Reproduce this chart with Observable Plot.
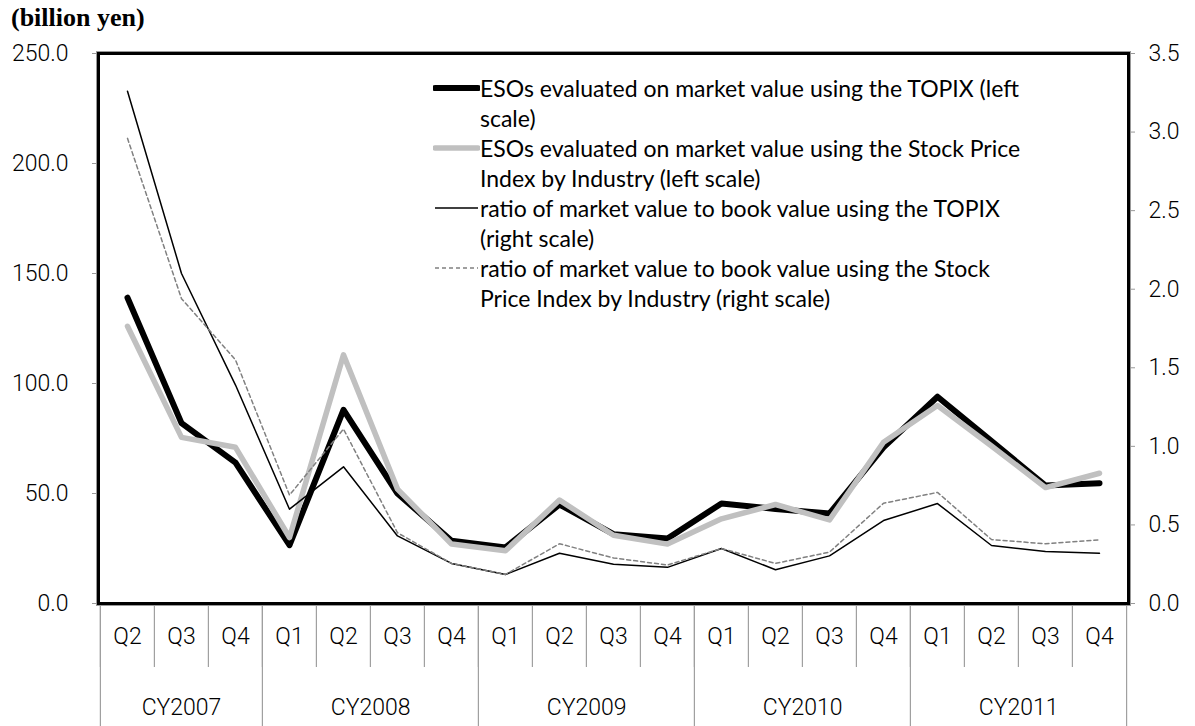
<!DOCTYPE html>
<html><head><meta charset="utf-8">
<script src="https://cdn.jsdelivr.net/npm/d3@7"></script>
<script src="https://cdn.jsdelivr.net/npm/@observablehq/plot@0.6"></script>
<style>
body{margin:0;background:#fff;}
#wrap{position:relative;width:1195px;height:726px;}
#title{position:absolute;left:11px;top:3px;font:bold 26px "Liberation Serif","Times New Roman",serif;color:#000;line-height:30px;}
#legend{position:absolute;left:433px;top:73px;font:23px Lato,sans-serif;line-height:30px;color:#000;}
.item{display:flex;align-items:flex-start;}
.item svg{flex:none;width:47px;height:30px;}
.item span{white-space:pre-line;}
#chart{position:absolute;left:0;top:0;}
</style></head>
<body><div id="wrap"><div id="chart"></div><div id="title">(billion yen)</div><div id="legend"></div></div>
<script>
// ---- data ----
const quarterLabels = ["Q2","Q3","Q4","Q1","Q2","Q3","Q4","Q1","Q2","Q3","Q4","Q1","Q2","Q3","Q4","Q1","Q2","Q3","Q4"];
const quarterYears  = [2007,2007,2007,2008,2008,2008,2008,2009,2009,2009,2009,2010,2010,2010,2010,2011,2011,2011,2011];
const yearLabels = {2007:"CY2007",2008:"CY2008",2009:"CY2009",2010:"CY2010",2011:"CY2011"};
const esoTopix    = [139, 82, 64, 26.5, 88, 50, 28.5, 25.5, 45, 31.5, 29.5, 45.5, 43, 40.9, 71, 94, 73.8, 53.6, 54.7];
const esoIndustry = [126, 75.5, 71, 30, 113, 52, 27, 24, 47, 31, 27, 38.5, 45, 38, 73.3, 90, 71.6, 52.7, 59.2];
const ratioTopix    = [3.26, 2.10, 1.39, 0.60, 0.87, 0.43, 0.255, 0.185, 0.32, 0.25, 0.23, 0.35, 0.215, 0.303, 0.528, 0.636, 0.369, 0.331, 0.32];
const ratioIndustry = [2.96, 1.94, 1.55, 0.69, 1.11, 0.45, 0.255, 0.185, 0.38, 0.29, 0.245, 0.35, 0.255, 0.327, 0.638, 0.707, 0.407, 0.38, 0.405];
const leftTicks  = [0, 50, 100, 150, 200, 250];
const rightTicks = [0, 0.5, 1.0, 1.5, 2.0, 2.5, 3.0, 3.5];
const legendLabels = [
  "ESOs evaluated on market value using the TOPIX (left\nscale)",
  "ESOs evaluated on market value using the Stock Price\nIndex by Industry (left scale)",
  "ratio of market value to book value using the TOPIX\n(right scale)",
  "ratio of market value to book value using the Stock\nPrice Index by Industry (right scale)"
];

// ---- layout ----
const W = 1195, H = 726, mL = 98, mR = 67, mT = 53, mB = 123;
const leftMax = 250, rightMax = 3.5, k = leftMax / rightMax;
const keys = quarterLabels.map((q, i) => quarterYears[i] + " " + q);
const step = (W - mL - mR) / keys.length;
const pxPerUnit = (H - mT - mB) / leftMax;
const rows = keys.map((key, i) => ({key, q: quarterLabels[i], year: quarterYears[i],
  a: esoTopix[i], b: esoIndustry[i], c: ratioTopix[i] * k, d: ratioIndustry[i] * k}));

const years = [...new Set(quarterYears)];
const groups = years.map(y => rows.filter(r => r.year === y));
const firstKeys = groups.map(g => g[0].key);
const oddCenters = groups.filter(g => g.length % 2 === 1).map(g => ({key: g[(g.length - 1) / 2].key, label: yearLabels[g[0].year]}));
const evenCenters = groups.filter(g => g.length % 2 === 0).map(g => ({key: g[g.length / 2 - 1].key, label: yearLabels[g[0].year]}));

const styles = [
  {field: "a", stroke: "#000", strokeWidth: 6, dash: null},
  {field: "b", stroke: "#c0c0c0", strokeWidth: 5.5, dash: null},
  {field: "c", stroke: "#000", strokeWidth: 1.5, dash: null},
  {field: "d", stroke: "#808080", strokeWidth: 1.5, dash: "4,3"}
];

const qDepth = 64 / pxPerUnit, yDepth = mB / pxPerUnit;
const sepColor = "#a0a0a0";
const tickFont = {fontSize: 23, fontWeight: 300, fill: "#000"};

const chart = Plot.plot({
  width: W, height: H, marginLeft: mL, marginRight: mR, marginTop: mT, marginBottom: mB,
  style: {fontFamily: "Roboto, sans-serif", fontSize: "23px", color: "#000", background: "transparent"},
  x: {type: "point", domain: keys, padding: 0.5, axis: null},
  y: {domain: [0, leftMax], axis: null},
  marks: [
    Plot.axisY({anchor: "left", ticks: leftTicks, tickFormat: d => d.toFixed(1), tickSize: 6, tickPadding: 24, stroke: "#999", ...tickFont}),
    Plot.axisY({anchor: "right", ticks: rightTicks.map(v => v * k), tickFormat: d => (d / k).toFixed(1), tickSize: 6, tickPadding: 14, stroke: "#999", ...tickFont}),
    // quarter separators
    Plot.ruleX(keys, {x: d => d, y1: 0, y2: -qDepth, dx: -step / 2, stroke: sepColor, strokeWidth: 1.2}),
    // year separators
    Plot.ruleX(firstKeys, {x: d => d, y1: 0, y2: -yDepth, dx: -step / 2, stroke: sepColor, strokeWidth: 1.2}),
    Plot.ruleX([keys[keys.length - 1]], {x: d => d, y1: 0, y2: -yDepth, dx: step / 2, stroke: sepColor, strokeWidth: 1.2}),
    Plot.text(rows, {x: "key", text: "q", frameAnchor: "bottom", dy: 40, ...tickFont}),
    Plot.text(oddCenters, {x: "key", text: "label", frameAnchor: "bottom", dy: 111, ...tickFont}),
    Plot.text(evenCenters, {x: "key", text: "label", frameAnchor: "bottom", dy: 111, dx: step / 2, ...tickFont}),
    ...styles.map(s => Plot.line(rows, {x: "key", y: s.field, stroke: s.stroke, strokeWidth: s.strokeWidth, strokeDasharray: s.dash, strokeLinecap: "round", strokeLinejoin: "round"})),
    Plot.frame({stroke: "#999", strokeWidth: 1, inset: -2}),
    Plot.frame({stroke: "#000", strokeWidth: 3})
  ]
});
document.getElementById("chart").appendChild(chart);

// legend
const legend = document.getElementById("legend");
styles.forEach((s, i) => {
  const item = document.createElement("div");
  item.className = "item";
  const svg = d3.create("svg").attr("width", 47).attr("height", 30);
  svg.append("line").attr("x1", 2).attr("x2", 45).attr("y1", 15).attr("y2", 15)
    .attr("stroke", s.stroke).attr("stroke-width", s.strokeWidth)
    .attr("stroke-dasharray", s.dash).attr("stroke-linecap", s.strokeWidth > 3 ? "round" : "butt");
  item.appendChild(svg.node());
  const span = document.createElement("span");
  span.textContent = legendLabels[i];
  item.appendChild(span);
  legend.appendChild(item);
});
</script>
</body></html>
